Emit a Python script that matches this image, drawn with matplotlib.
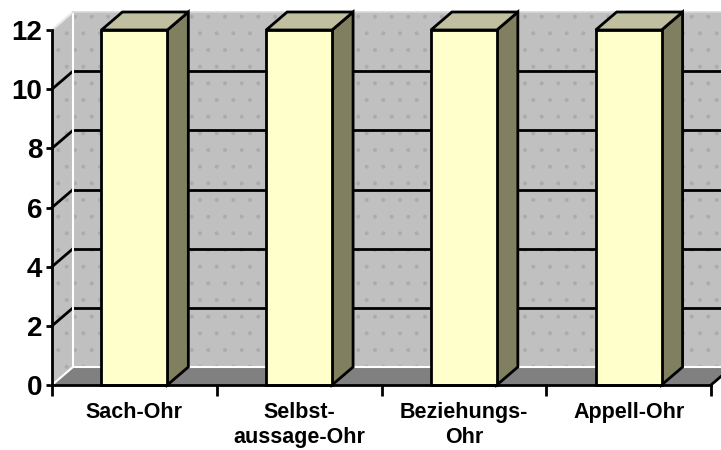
import matplotlib
matplotlib.use("Agg")
import matplotlib.pyplot as plt
from matplotlib.patches import Polygon
import numpy as np

categories = ["Sach-Ohr", "Selbst-\naussage-Ohr", "Beziehungs-\nOhr", "Appell-Ohr"]
values = [12, 12, 12, 12]
y_ticks = [0, 2, 4, 6, 8, 10, 12]

plt.rcParams['font.family'] = ['Liberation Sans', 'DejaVu Sans']
plt.rcParams['font.weight'] = 'bold'
plt.rcParams['hatch.linewidth'] = 0.4
plt.rcParams['hatch.color'] = '#ABABAB'

W, H = 721, 450
fig = plt.figure(figsize=(W / 100, H / 100), dpi=100)
L, R, T, B = 52, 711, 30, 385
ax = fig.add_axes([L / W, (H - B) / H, (R - L) / W, (B - T) / H])
n = len(categories)
x0, x1 = -0.5, n - 0.5
ymax = 12
ax.set_xlim(x0, x1)
ax.set_ylim(0, ymax)

# 3D depth offset in data units
dx = 21 / (R - L) * (x1 - x0)
dy = 18 / (B - T) * ymax

wall = '#C0C0C0'
floor = '#808080'

def poly(pts, **kw):
    p = Polygon(pts, closed=True, clip_on=False, **kw)
    ax.add_patch(p)
    return p

# back wall
bw = [(x0 + dx, dy), (x1 + dx, dy), (x1 + dx, ymax + dy), (x0 + dx, ymax + dy)]
poly(bw, facecolor=wall, edgecolor='none', zorder=1)
poly(bw, facecolor='none', edgecolor='#ABABAB', linewidth=0, hatch='.', zorder=1.1)
# left wall
lw_pts = [(x0, 0), (x0 + dx, dy), (x0 + dx, ymax + dy), (x0, ymax)]
poly(lw_pts, facecolor=wall, edgecolor='none', zorder=1)
poly(lw_pts, facecolor='none', edgecolor='#ABABAB', linewidth=0, hatch='.', zorder=1.1)

# gridlines on walls
for yv in y_ticks[1:-1]:
    ax.plot([x0 + dx, x1 + dx], [yv + dy, yv + dy], color='black', lw=2, zorder=2, clip_on=False,
            solid_capstyle='butt')
    ax.plot([x0, x0 + dx], [yv, yv + dy], color='black', lw=2, zorder=2, clip_on=False)

# wall edges (light)
ax.plot([x0 + dx, x0 + dx], [dy, ymax + dy], color='white', lw=1.5, zorder=2.1, clip_on=False)
ax.plot([x0, x0 + dx], [ymax, ymax + dy], color='#E8E8E8', lw=1.5, zorder=2.1, clip_on=False)
ax.plot([x0 + dx, x1 + dx], [ymax + dy, ymax + dy], color='#D8D8D8', lw=1.2, zorder=2.1, clip_on=False)

# floor
fl = [(x0, 0), (x1, 0), (x1 + dx, dy), (x0 + dx, dy)]
poly(fl, facecolor=floor, edgecolor='none', zorder=3)
ax.plot([x0 + dx, x1 + dx], [dy, dy], color='white', lw=1.5, zorder=3.1, clip_on=False)
ax.plot([x0, x0 + dx], [0, dy], color='white', lw=1.5, zorder=3.1, clip_on=False)
ax.plot([x1, x1 + dx], [0, dy], color='black', lw=2, zorder=3.1, clip_on=False)

# bars
xs = np.arange(n)
bw_ = 0.4
front = '#FFFFCC'
top_c = '#C0C0A0'
side_c = '#808060'
for xi, v in zip(xs, values):
    xl, xr = xi - bw_ / 2, xi + bw_ / 2
    poly([(xr, 0), (xr + dx, dy), (xr + dx, v + dy), (xr, v)], facecolor=side_c,
         edgecolor='black', linewidth=2, joinstyle='miter', zorder=4)
    poly([(xl, v), (xr, v), (xr + dx, v + dy), (xl + dx, v + dy)], facecolor=top_c,
         edgecolor='black', linewidth=2, joinstyle='miter', zorder=4)
ax.bar(xs, values, width=bw_, color=front, edgecolor='black', linewidth=2, zorder=5,
       clip_on=False)

# axes styling
ax.set_facecolor('none')
for s in ['top', 'right']:
    ax.spines[s].set_visible(False)
for s in ['left', 'bottom']:
    ax.spines[s].set_linewidth(2)
    ax.spines[s].set_zorder(6)
ax.set_yticks(y_ticks)
ax.set_yticklabels([str(t) for t in y_ticks], fontsize=20, fontweight='bold')
ax.tick_params(axis='y', length=4, width=2, pad=3)
ax.set_xticks(xs)
ax.set_xticklabels(categories, fontsize=15.5, fontweight='bold', linespacing=1.3)
ax.set_xticks(np.arange(n + 1) - 0.5, minor=True)
ax.tick_params(axis='x', which='major', length=0, pad=12)
ax.tick_params(axis='x', which='minor', length=8, width=2)

fig.savefig('out.png', dpi=100)
